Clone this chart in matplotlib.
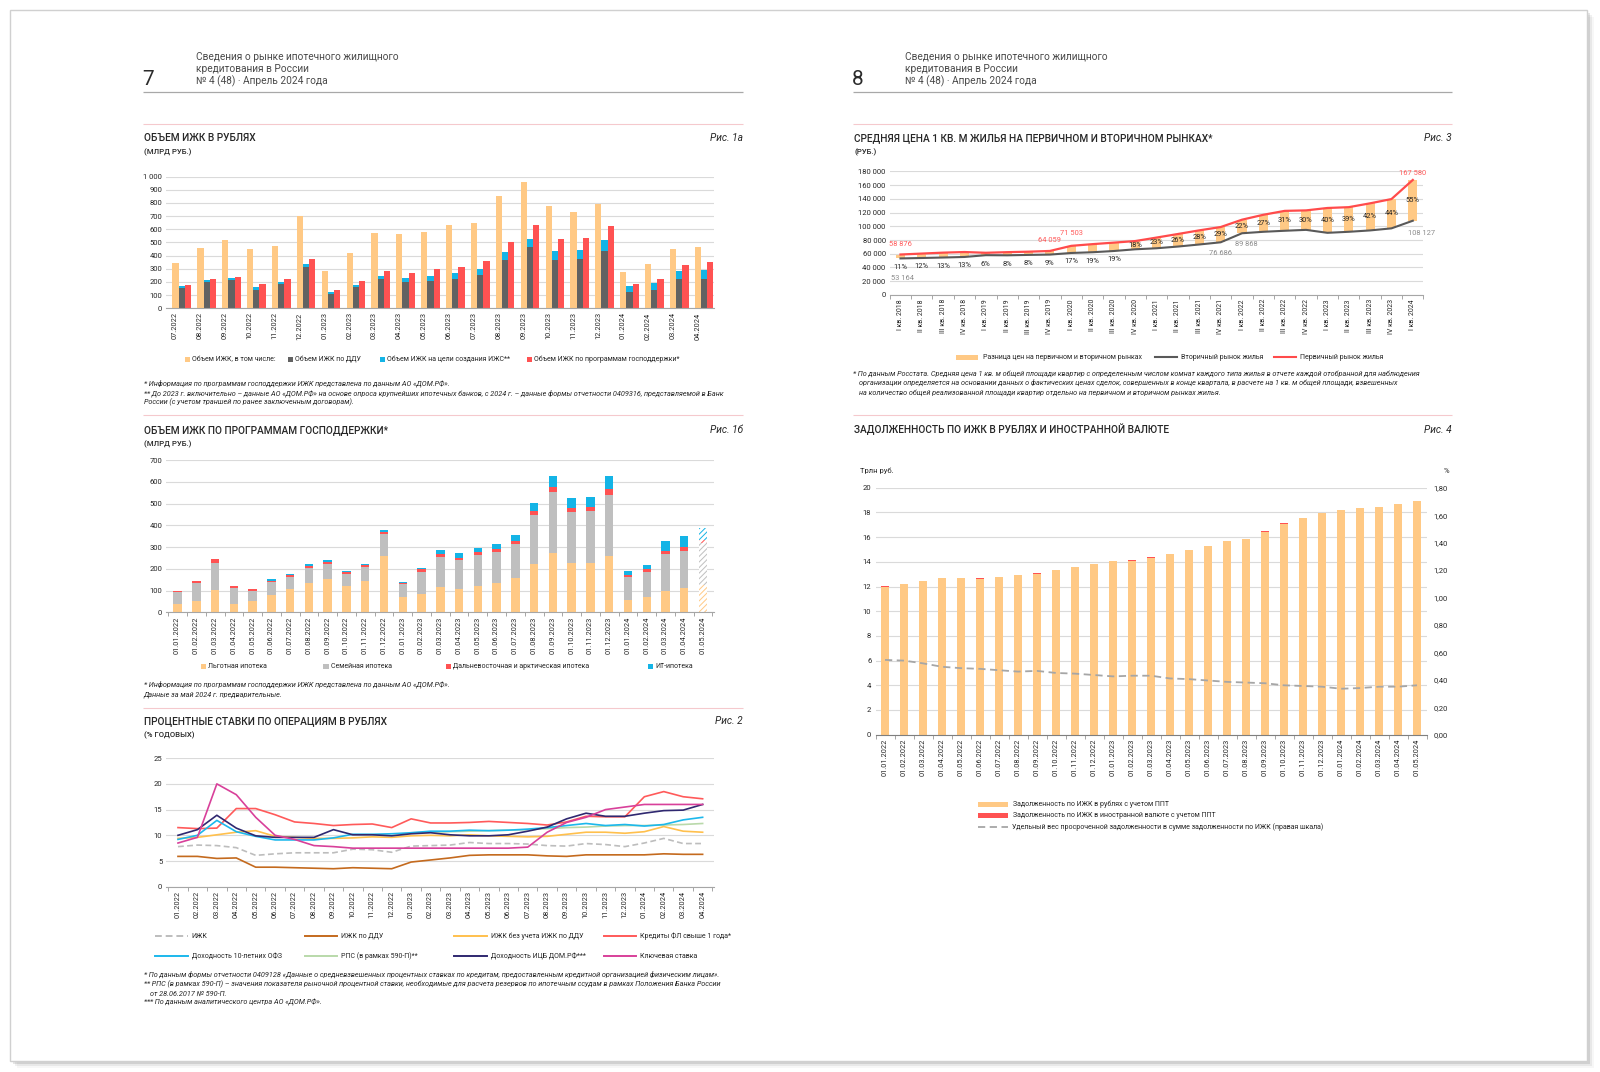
import numpy as np
import matplotlib.pyplot as plt
from matplotlib.patches import Rectangle
from matplotlib.ticker import FuncFormatter, FixedLocator

plt.rcParams['font.family'] = ['Roboto', 'DejaVu Sans']
plt.rcParams['hatch.linewidth'] = 0.7

W, H = 1600, 1072
# layout coordinates below are measured on a 1568-wide view of the page
S = 1600 / 1568
PW, PH = W / S, H / S

# --- Рис. 1а: объем ИЖК в рублях, млрд руб.
months_1a = ['07.2022', '08.2022', '09.2022', '10.2022', '11.2022', '12.2022',
             '01.2023', '02.2023', '03.2023', '04.2023', '05.2023', '06.2023',
             '07.2023', '08.2023', '09.2023', '10.2023', '11.2023', '12.2023',
             '01.2024', '02.2024', '03.2024', '04.2024']
vol_total = [345, 458, 519, 448, 470, 700, 282, 420, 570, 566, 580, 628,
             647, 854, 958, 773, 728, 788, 275, 335, 451, 468]
vol_ddu = [155, 195, 215, 140, 183, 310, 105, 163, 220, 200, 205, 219,
           249, 368, 466, 365, 373, 433, 126, 141, 222, 222]
vol_izhs = [15, 17, 13, 20, 15, 28, 15, 15, 22, 27, 42, 45,
            46, 55, 60, 71, 70, 83, 43, 53, 60, 68]
vol_gos = [177, 218, 240, 187, 220, 375, 135, 203, 285, 268, 295, 312,
           355, 504, 632, 526, 534, 627, 186, 219, 327, 350]

# --- Рис. 1б: ИЖК по программам господдержки, млрд руб.
dates_1b = ['01.01.2022', '01.02.2022', '01.03.2022', '01.04.2022', '01.05.2022',
            '01.06.2022', '01.07.2022', '01.08.2022', '01.09.2022', '01.10.2022',
            '01.11.2022', '01.12.2022', '01.01.2023', '01.02.2023', '01.03.2023',
            '01.04.2023', '01.05.2023', '01.06.2023', '01.07.2023', '01.08.2023',
            '01.09.2023', '01.10.2023', '01.11.2023', '01.12.2023', '01.01.2024',
            '01.02.2024', '01.03.2024', '01.04.2024', '01.05.2024']
prog_lgot = [37, 52, 101, 37, 52, 78, 106, 135, 152, 120, 145, 260, 69, 86, 115,
             108, 123, 134, 157, 222, 272, 229, 226, 257, 55, 71, 97, 111, 125]
prog_semya = [54, 83, 127, 74, 48, 59, 57, 67, 70, 55, 64, 98, 59, 100, 140,
              132, 140, 144, 157, 227, 283, 234, 240, 285, 107, 114, 169, 172, 192]
prog_dv = [7, 11, 15, 9, 5, 6, 8, 10, 10, 10, 9, 13, 7, 11, 14,
           11, 14, 14, 14, 17, 20, 19, 20, 24, 9, 12, 17, 19, 15]
prog_it = [0, 0, 0, 0, 0, 9, 7, 8, 8, 4, 3, 6, 3, 9, 19,
           20, 20, 22, 27, 36, 54, 43, 46, 60, 17, 21, 43, 49, 57]

# --- Рис. 2: процентные ставки, % годовых
months_2 = ['01.2022', '02.2022', '03.2022', '04.2022', '05.2022', '06.2022',
            '07.2022', '08.2022', '09.2022', '10.2022', '11.2022', '12.2022',
            '01.2023', '02.2023', '03.2023', '04.2023', '05.2023', '06.2023',
            '07.2023', '08.2023', '09.2023', '10.2023', '11.2023', '12.2023',
            '01.2024', '02.2024', '03.2024', '04.2024']
rate_izhk = [7.8, 8.1, 8.0, 7.6, 6.1, 6.4, 6.6, 6.6, 6.6, 7.3, 7.2, 6.7, 7.9, 8.0,
             8.1, 8.6, 8.4, 8.4, 8.3, 8.0, 7.9, 8.4, 8.2, 7.8, 8.5, 9.4, 8.4, 8.4]
rate_ddu = [5.9, 5.9, 5.5, 5.6, 3.8, 3.8, 3.7, 3.6, 3.5, 3.7, 3.6, 3.5, 4.8, 5.2,
            5.6, 6.1, 6.2, 6.2, 6.2, 6.0, 5.9, 6.2, 6.2, 6.2, 6.2, 6.4, 6.3, 6.3]
rate_no_ddu = [9.4, 9.6, 10.1, 10.6, 10.9, 9.8, 9.6, 9.4, 9.4, 9.5, 9.7, 9.6, 9.9, 10.0,
               9.9, 10.1, 9.9, 9.8, 9.7, 9.8, 10.2, 10.6, 10.6, 10.4, 10.7, 11.7, 10.8, 10.6]
rate_fl = [11.5, 11.3, 11.4, 15.2, 15.2, 14.0, 12.6, 12.3, 11.9, 12.1, 12.2, 11.5, 13.2, 12.4,
           12.4, 12.5, 12.7, 12.5, 12.3, 12.0, 12.6, 13.7, 13.6, 13.6, 17.5, 18.5, 17.5, 17.1]
rate_ofz = [9.2, 10.0, 12.9, 10.7, 9.8, 9.1, 9.1, 9.1, 9.5, 10.2, 10.2, 10.3, 10.5, 10.8,
            10.8, 11.0, 10.9, 11.0, 11.2, 11.5, 11.9, 12.3, 11.9, 12.1, 11.8, 12.1, 13.0, 13.5]
rate_rps = [np.nan, np.nan, np.nan, np.nan, np.nan, np.nan, np.nan, np.nan, np.nan,
            np.nan, np.nan, np.nan, 10.5, 10.6, 10.7, 10.8, 10.9, 11.0, 11.1, 11.3,
            11.5, 11.6, 11.8, 11.9, 11.9, 12.0, 12.1, 12.3]
rate_icb = [10.0, 11.1, 13.9, 11.4, 9.9, 9.6, 9.6, 9.6, 11.1, 10.1, 10.1, 9.9, 10.3, 10.5,
            10.1, 9.9, 9.9, 10.1, 10.8, 11.6, 13.2, 14.3, 13.7, 13.7, 14.3, 14.8, 14.9, 16.0]
rate_key = [8.5, 9.6, 20.0, 17.9, 13.5, 10.0, 9.2, 8.0, 7.8, 7.5, 7.5, 7.5, 7.5, 7.5,
            7.5, 7.5, 7.5, 7.5, 7.7, 10.6, 12.5, 13.5, 15.0, 15.5, 16.0, 16.0, 16.0, 16.0]

# --- Рис. 3: средняя цена 1 кв. м, руб.
quarters = ['I кв. 2018', 'II кв. 2018', 'III кв. 2018', 'IV кв. 2018',
            'I кв. 2019', 'II кв. 2019', 'III кв. 2019', 'IV кв. 2019',
            'I кв. 2020', 'II кв. 2020', 'III кв. 2020', 'IV кв. 2020',
            'I кв. 2021', 'II кв. 2021', 'III кв. 2021', 'IV кв. 2021',
            'I кв. 2022', 'II кв. 2022', 'III кв. 2022', 'IV кв. 2022',
            'I кв. 2023', 'II кв. 2023', 'III кв. 2023', 'IV кв. 2023', 'I кв. 2024']
price_primary = [58876, 60250, 61600, 62500, 61400, 62300, 63000, 64059,
                 71503, 74000, 76200, 78500, 83600, 88800, 94100, 98925,
                 109640, 116800, 122500, 123200, 126700, 127900, 133500, 139700, 167580]
price_secondary = [53164, 53800, 54500, 55300, 57900, 57700, 58300, 58770,
                   61113, 62200, 64000, 66500, 68000, 70500, 73500, 76686,
                   89868, 92000, 93500, 94800, 90500, 92000, 94000, 97000, 108127]
price_gap = ['11%', '12%', '13%', '13%', '6%', '8%', '8%', '9%', '17%', '19%', '19%',
             '18%', '23%', '26%', '28%', '29%', '22%', '27%', '31%', '30%', '40%',
             '39%', '42%', '44%', '55%']

# --- Рис. 4: задолженность по ИЖК, трлн руб. / %
debt_rub = [12.0, 12.2, 12.45, 12.7, 12.7, 12.65, 12.75, 12.95, 13.05, 13.35,
            13.55, 13.8, 14.05, 14.1, 14.35, 14.65, 14.95, 15.28, 15.65, 15.85,
            16.45, 17.1, 17.57, 17.92, 18.22, 18.33, 18.44, 18.65, 18.95]
debt_fx = [0.01, 0.01, 0.01, 0.01, 0.01, 0.01, 0.01, 0.01, 0.01, 0.01,
           0.01, 0.01, 0.01, 0.01, 0.01, 0.01, 0.01, 0.01, 0.01, 0.01,
           0.01, 0.01, 0.01, 0.01, 0.01, 0.01, 0.01, 0.01, 0.01]
overdue_share = [0.545, 0.54, 0.52, 0.495, 0.485, 0.48, 0.47, 0.46, 0.465, 0.45,
                 0.445, 0.435, 0.425, 0.43, 0.43, 0.41, 0.405, 0.395, 0.385, 0.38,
                 0.375, 0.36, 0.355, 0.35, 0.335, 0.34, 0.35, 0.35, 0.36]

ORANGE = '#FFC985'
DGREY = '#626262'
LGREY = '#BFBFBF'
CYAN = '#14B4E6'
RED = '#FF5252'
GRID = '#DADADA'
AXIS = '#A6A6A6'
TXT = '#262626'
PINK = '#F5C9CD'

fig = plt.figure(figsize=(W / 100, H / 100), dpi=100)
page = fig.add_axes([0, 0, 1, 1])
page.set_xlim(0, PW)
page.set_ylim(PH, 0)
page.axis('off')

# page frame with a soft shadow
for i, a in enumerate([0.10, 0.06, 0.03]):
    page.add_patch(Rectangle((13 + 2 * i, 13 + 2 * i), 1545, 1030, color='k', alpha=a, lw=0))
page.add_patch(Rectangle((10, 10), 1545, 1030, facecolor='white', edgecolor='#d0d0d0', lw=1))


def txt(x, y, s, size=5.5, **kw):
    kw.setdefault('color', TXT)
    kw.setdefault('va', 'baseline')
    page.text(x, y, s, fontsize=size, **kw)


def hline(x0, x1, y, color, lw=0.8):
    page.plot([x0, x1], [y, y], color=color, lw=lw, solid_capstyle='butt')


def leg_square(x, y, color, label):
    page.add_patch(Rectangle((x, y - 2.5), 5, 5, color=color, lw=0))
    txt(x + 7, y + 2, label, size=5.0)


def leg_line(x0, x1, y, label, **kw):
    page.plot([x0, x1], [y, y], **kw)
    txt(x1 + 4, y + 2, label, size=5.0)


def leg_bar(x0, x1, y, color, label):
    page.add_patch(Rectangle((x0, y - 2.5), x1 - x0, 5, color=color, lw=0))
    txt(x1 + 5, y + 2, label, size=5.0)


def px_axes(x0, y0, x1, y1):
    ax = fig.add_axes([x0 / PW, 1 - y1 / PH, (x1 - x0) / PW, (y1 - y0) / PH])
    ax.set_facecolor('none')
    return ax


def style_chart(ax, ymax, step, labels, fmt=None, cat_ticks=True, xsize=5.3):
    ax.set_ylim(0, ymax)
    ax.set_yticks(np.arange(0, ymax + step / 2, step))
    if fmt is not None:
        ax.yaxis.set_major_formatter(FuncFormatter(fmt))
    ax.yaxis.grid(True, color=GRID, lw=0.8)
    ax.set_axisbelow(True)
    for s in ['top', 'right', 'left']:
        ax.spines[s].set_visible(False)
    ax.spines['bottom'].set_color(AXIS)
    ax.spines['bottom'].set_linewidth(0.8)
    ax.tick_params(axis='y', length=0, labelsize=5.5, pad=3, colors=TXT)
    n = len(labels)
    ax.set_xticks(np.arange(n))
    ax.set_xticklabels(labels, rotation=90, fontsize=xsize, color=TXT)
    ax.tick_params(axis='x', which='major', length=0, pad=3)
    if cat_ticks:
        ax.xaxis.set_minor_locator(FixedLocator(np.arange(-0.5, n, 1.0)))
        ax.tick_params(axis='x', which='minor', length=3, color=AXIS, width=0.7)


def thousands(v, _):
    return f'{int(v):,}'.replace(',', ' ')


# ---------------- page headers ----------------
for x_num, x_head, num, x_end in [(139, 192, '7', 728), (835, 887, '8', 1423)]:
    txt(x_num, 83, num, size=15, fontweight='normal', color='#2b2b2b')
    for k, line in enumerate(['Сведения о рынке ипотечного жилищного',
                              'кредитования в России',
                              '№ 4 (48) · Апрель 2024 года']):
        txt(x_head, 59 + 12 * k, line, size=7.3, color='#4a4a4a')
    hline(x_num + 1, x_end, 90.5, '#a8a8a8', lw=0.9)

for y in [122, 407, 694]:
    hline(140, 728, y, PINK)
for y in [122, 407]:
    hline(836, 1423, y, PINK)


def title(x, y, x_end, s, sub, fig_no):
    txt(x, y, s, size=7.3, fontweight='medium')
    if sub:
        txt(x, y + 13, sub, size=5.6, fontweight='medium')
    txt(x_end, y, fig_no, size=7.3, ha='right', fontstyle='italic')


title(141, 138, 728, 'ОБЪЕМ ИЖК В РУБЛЯХ', '(МЛРД РУБ.)', 'Рис. 1а')
title(141, 424, 728, 'ОБЪЕМ ИЖК ПО ПРОГРАММАМ ГОСПОДДЕРЖКИ*', '(МЛРД РУБ.)', 'Рис. 1б')
title(141, 710, 728, 'ПРОЦЕНТНЫЕ СТАВКИ ПО ОПЕРАЦИЯМ В РУБЛЯХ', '(% ГОДОВЫХ)', 'Рис. 2')
title(837, 138, 1423, 'СРЕДНЯЯ ЦЕНА 1 КВ. М ЖИЛЬЯ НА ПЕРВИЧНОМ И ВТОРИЧНОМ РЫНКАХ*', '(РУБ.)', 'Рис. 3')
title(837, 424, 1423, 'ЗАДОЛЖЕННОСТЬ ПО ИЖК В РУБЛЯХ И ИНОСТРАННОЙ ВАЛЮТЕ', None, 'Рис. 4')


def footnotes(x, y, lines, indent=()):
    for k, line in enumerate(lines):
        txt(x + (6 if k in indent else 0), y + 9.3 * k, line, size=5.25, fontstyle='italic')


# ---------------- Рис. 1а ----------------
ax = px_axes(163, 173, 700, 302)
x = np.arange(len(months_1a))
bw = 0.25
ax.bar(x, vol_total, bw, color=ORANGE, lw=0)
ax.bar(x + bw, vol_ddu, bw, color=DGREY, lw=0)
ax.bar(x + bw, vol_izhs, bw, bottom=vol_ddu, color=CYAN, lw=0)
ax.bar(x + 2 * bw, vol_gos, bw, color=RED, lw=0)
style_chart(ax, 1000, 100, months_1a, fmt=thousands, cat_ticks=False)
ax.set_xlim(-0.37, len(x) - 0.34)

leg_square(181, 352, ORANGE, 'Объем ИЖК, в том числе:')
leg_square(282, 352, DGREY, 'Объем ИЖК по ДДУ')
leg_square(372, 352, CYAN, 'Объем ИЖК на цели создания ИЖС**')
leg_square(516, 352, RED, 'Объем ИЖК по программам господдержки*')
footnotes(141, 378, [
    '* Информация по программам господдержки ИЖК представлена по данным АО «ДОМ.РФ».',
    '** До 2023 г. включительно – данные АО «ДОМ.РФ» на основе опроса крупнейших ипотечных банков, '
    'с 2024 г. – данные формы отчетности 0409316, представляемой в Банк',
    'России (с учетом траншей по ранее заключенным договорам).'])

# ---------------- Рис. 1б ----------------
ax = px_axes(163, 451, 700, 600)
x = np.arange(len(dates_1b))
lg = np.array(prog_lgot)
sm = np.array(prog_semya)
dv = np.array(prog_dv)
it = np.array(prog_it)
last = len(x) - 1
bw = 0.45
layers = [(lg, 0, ORANGE), (sm, lg, LGREY), (dv, lg + sm, RED), (it, lg + sm + dv, CYAN)]
for vals, base, col in layers:
    base = np.zeros(len(x)) + base
    ax.bar(x[:last], vals[:last], bw, bottom=base[:last], color=col, lw=0)
    ax.bar(x[last], vals[last], bw, bottom=base[last], facecolor='white',
           edgecolor=col, hatch='//////', lw=0)
style_chart(ax, 700, 100, dates_1b)
ax.set_xlim(-0.6, len(x) - 0.4)

leg_square(197, 653, ORANGE, 'Льготная ипотека')
leg_square(317, 653, LGREY, 'Семейная ипотека')
leg_square(437, 653, RED, 'Дальневосточная и арктическая ипотека')
leg_square(635, 653, CYAN, 'ИТ-ипотека')
footnotes(141, 673, [
    '* Информация по программам господдержки ИЖК представлена по данным АО «ДОМ.РФ».',
    'Данные за май 2024 г. предварительные.'])

# ---------------- Рис. 2 ----------------
ax = px_axes(163, 743, 700, 869)
x = np.arange(len(months_2))
series_2 = [
    (rate_rps, dict(color='#B9D9AA', lw=1.2), 'РПС (в рамках 590-П)**'),
    (rate_izhk, dict(color='#BDBDBD', lw=1.2, dashes=(3.5, 2)), 'ИЖК'),
    (rate_ddu, dict(color='#C46A1E', lw=1.2), 'ИЖК по ДДУ'),
    (rate_no_ddu, dict(color='#FFC04D', lw=1.2), 'ИЖК без учета ИЖК по ДДУ'),
    (rate_fl, dict(color='#FF5A5A', lw=1.2), 'Кредиты ФЛ свыше 1 года*'),
    (rate_ofz, dict(color='#1CB8EC', lw=1.2), 'Доходность 10-летних ОФЗ'),
    (rate_icb, dict(color='#2F2870', lw=1.2), 'Доходность ИЦБ ДОМ.РФ***'),
    (rate_key, dict(color='#D8409A', lw=1.2), 'Ключевая ставка'),
]
styles_2 = {}
for vals, kw, lab in series_2:
    ax.plot(x, vals, **kw)
    styles_2[lab] = kw
style_chart(ax, 25, 5, months_2)
ax.set_xlim(-0.6, len(x) - 0.4)

legend_2 = [['ИЖК', 'ИЖК по ДДУ', 'ИЖК без учета ИЖК по ДДУ', 'Кредиты ФЛ свыше 1 года*'],
            ['Доходность 10-летних ОФЗ', 'РПС (в рамках 590-П)**', 'Доходность ИЦБ ДОМ.РФ***',
             'Ключевая ставка']]
for r, row in enumerate(legend_2):
    for c, lab in enumerate(row):
        x0 = 152 + 146.5 * c
        kw = dict(styles_2[lab])
        kw['lw'] = 1.4
        leg_line(x0, x0 + 32, 917 + 20 * r, lab, **kw)
footnotes(141, 957, [
    '* По данным формы отчетности 0409128 «Данные о средневзвешенных процентных ставках по кредитам, '
    'предоставленным кредитной организацией физическим лицам».',
    '** РПС (в рамках 590-П) – значения показателя рыночной процентной ставки, необходимые для расчета '
    'резервов по ипотечным ссудам в рамках Положения Банка России',
    'от 28.06.2017 № 590-П.',
    '*** По данным аналитического центра АО «ДОМ.РФ».'], indent=(2,))

# ---------------- Рис. 3 ----------------
ax = px_axes(872, 168, 1395, 289)
x = np.arange(len(quarters))
prim = np.array(price_primary)
sec = np.array(price_secondary)
ax.bar(x, prim - sec, 0.43, bottom=sec, color=ORANGE, lw=0, zorder=2)
ax.plot(x, sec, color='#595959', lw=1.5, zorder=3)
ax.plot(x, prim, color='#FF4B4B', lw=1.6, zorder=3)
style_chart(ax, 180000, 20000, quarters, fmt=thousands, xsize=5.0)
ax.set_xlim(-0.5, len(x) - 0.5)
for i, lab in enumerate(price_gap):
    y = sec[i] - 13000 if i < 11 else (prim[i] + sec[i]) / 2
    ax.text(i, y, lab, ha='center', va='center', fontsize=5.4, color=TXT, zorder=4)
for i, dy in [(0, 14000), (7, 15000), (8, 17500), (24, 10000)]:
    ax.text(i, prim[i] + dy, thousands(prim[i], None), ha='center', va='center',
            fontsize=5.4, color='#FF5B5B', zorder=4)
for i, dx, dy in [(0, 0.1, -29000), (15, 0, -16000), (16, 0.2, -17000), (24, 0.4, -19000)]:
    ax.text(i + dx, sec[i] + dy, thousands(sec[i], None), ha='center', va='center',
            fontsize=5.4, color='#8C8C8C', zorder=4)

leg_bar(937, 958, 350, ORANGE, 'Разница цен на первичном и вторичном рынках')
leg_line(1132, 1153, 350, 'Вторичный рынок жилья', color='#595959', lw=1.5)
leg_line(1249, 1270, 350, 'Первичный рынок жилья', color='#FF4B4B', lw=1.5)
footnotes(836, 368, [
    '* По данным Росстата. Средняя цена 1 кв. м общей площади квартир с определенным числом комнат '
    'каждого типа жилья в отчете каждой отобранной для наблюдения',
    'организации определяется на основании данных о фактических ценах сделок, совершенных в конце '
    'квартала, в расчете на 1 кв. м общей площади, взвешенных',
    'на количество общей реализованной площади квартир отдельно на первичном и вторичном рынках жилья.'],
    indent=(1, 2))

# ---------------- Рис. 4 ----------------
ax = px_axes(858, 478, 1398, 720)
x = np.arange(len(dates_1b))
ax.bar(x, debt_rub, 0.45, color=ORANGE, lw=0)
ax.bar(x, debt_fx, 0.45, bottom=debt_rub, color=RED, lw=0)
style_chart(ax, 20, 2, dates_1b)
ax.spines['bottom'].set_color('#7f7f7f')
ax.set_xlim(-0.5, len(x) - 0.5)
ax2 = ax.twinx()
ax2.set_facecolor('none')
ax2.plot(x, overdue_share, color='#A6A6A6', lw=1.3, dashes=(4, 2.5))
ax2.set_ylim(0, 1.8)
ax2.set_yticks(np.arange(0, 1.81, 0.2))
ax2.yaxis.set_major_formatter(FuncFormatter(lambda v, _: f'{v:.2f}'.replace('.', ',')))
ax2.tick_params(axis='y', length=0, labelsize=5.5, pad=5, colors=TXT)
for s in ax2.spines.values():
    s.set_visible(False)
txt(843, 464, 'Трлн руб.', size=5.5)
txt(1420, 464, '%', size=5.5, ha='right')

leg_bar(958, 988, 788, ORANGE, 'Задолженность по ИЖК в рублях с учетом ППТ')
leg_bar(958, 988, 799, RED, 'Задолженность по ИЖК в иностранной валюте с учетом ППТ')
leg_line(958, 988, 810, 'Удельный вес просроченной задолженности в сумме задолженности по ИЖК (правая шкала)',
         color='#A6A6A6', lw=1.3, dashes=(4, 2.5))

fig.savefig('out.png', dpi=100)
